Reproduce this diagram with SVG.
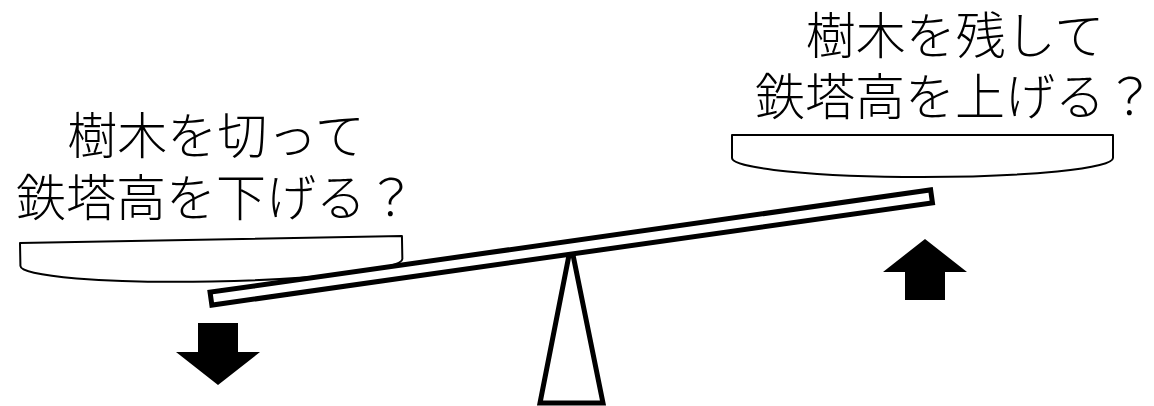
<svg xmlns="http://www.w3.org/2000/svg" width="1154" height="406" viewBox="0 0 1154 406">
  <style>
    .lbl { font-family: "Noto Sans CJK JP", "Noto Sans CJK SC", sans-serif; font-size: 50px; font-weight: 300; fill: #000; text-anchor: middle; }
    .plate { fill: #fff; stroke: #000; stroke-width: 2; stroke-linejoin: round; }
    .thick { fill: #fff; stroke: #000; stroke-width: 5; stroke-linejoin: miter; }
    .arrow { fill: #000; stroke: none; }
  </style>
  <rect width="1154" height="406" fill="#fff"/>
  <g id="label-left">
    <text class="lbl" x="216" y="154">樹木を切って</text>
    <text class="lbl" x="216" y="216">鉄塔高を下げる？</text>
  </g>
  <g id="label-right">
    <text class="lbl" x="955" y="54">樹木を残して</text>
    <text class="lbl" x="955" y="115">鉄塔高を上げる？</text>
  </g>
  <g id="plate-left">
    <path class="plate" transform="translate(20 243) rotate(-1.05)" d="M0,0 H382 V23 A191,19 0 0 1 0,23 Z"/>
  </g>
  <g id="plate-right">
    <path class="plate" d="M732,135 H1113 V158 A190.5,19 0 0 1 732,158 Z"/>
  </g>
  <g id="fulcrum">
    <path class="thick" d="M571,245 L540,403 L603,403 Z"/>
  </g>
  <g id="beam">
    <rect class="thick" x="207.35" y="241" width="727.8" height="13" transform="rotate(-8.08 571.25 247.5)"/>
  </g>
  <g id="arrow-down">
    <polygon class="arrow" points="198,323 238,323 238,352 260,352 218,385 176,352 198,352"/>
  </g>
  <g id="arrow-up">
    <polygon class="arrow" points="925,239 967,272 945,272 945,300 905,300 905,272 883,272"/>
  </g>
</svg>
